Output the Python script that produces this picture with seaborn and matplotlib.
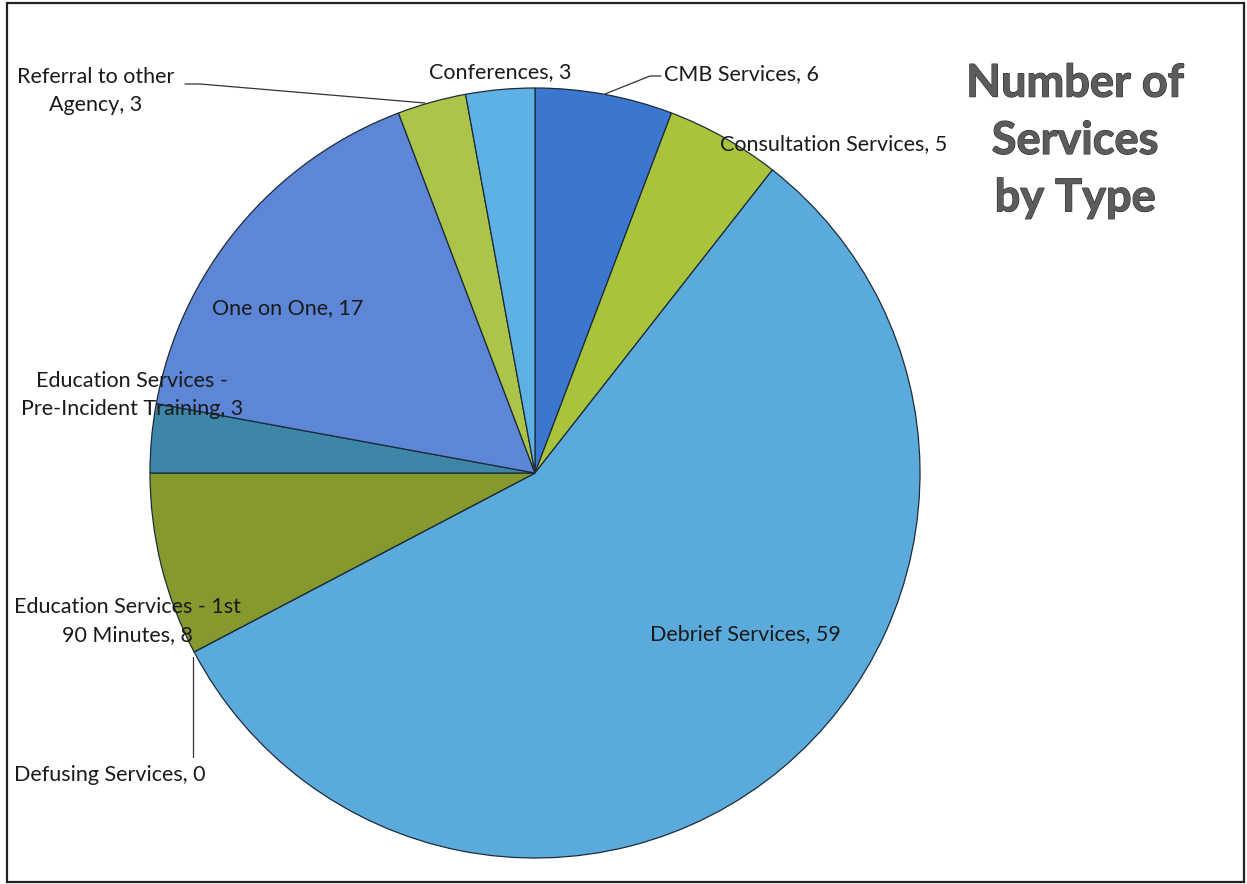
import matplotlib
matplotlib.use("Agg")
import matplotlib.pyplot as plt
import matplotlib.patheffects as pe
import seaborn as sns
from matplotlib.patches import Rectangle

# ---- data ----
categories = ["CMB Services", "Consultation Services", "Debrief Services",
              "Defusing Services", "Education Services - 1st 90 Minutes",
              "Education Services - Pre-Incident Training", "One on One",
              "Referral to other Agency", "Conferences"]
values = [6, 5, 59, 0, 8, 3, 17, 3, 3]
label_texts = ["CMB Services, 6", "Consultation Services, 5", "Debrief Services, 59",
               "Defusing Services, 0", "Education Services - 1st\n90 Minutes, 8",
               "Education Services -\nPre-Incident Training, 3", "One on One, 17",
               "Referral to other\nAgency, 3", "Conferences, 3"]
title_text = "Number of\nServices\nby Type"

colors = sns.color_palette(["#3b76cf", "#a9c43c", "#5aaadc", "#4f81bd", "#85992f",
                            "#3e86a8", "#5d86d6", "#abc449", "#5db1e4"])

sns.set_theme(style="white")
plt.rcParams["font.family"] = ["Lato", "DejaVu Sans"]

W, H = 1247, 884
fig = plt.figure(figsize=(W / 100, H / 100), dpi=100)
fig.patch.set_facecolor("white")

# pie axes: centre (535, 473), radius 385 px
cx, cy, r = 535, 473, 385
ax = fig.add_axes([(cx - r) / W, (H - cy - r) / H, 2 * r / W, 2 * r / H])
ax.pie(values, colors=colors, startangle=90, counterclock=False, radius=1.0,
       wedgeprops=dict(edgecolor="#1d2b3a", linewidth=0.9))
ax.set_xlim(-1.0, 1.0)
ax.set_ylim(-1.0, 1.0)
ax.set_aspect("equal")
ax.axis("off")
for p in ax.patches:
    p.set_clip_on(False)

# overlay axes in pixel coordinates for labels / frame
ov = fig.add_axes([0, 0, 1, 1], facecolor="none")
ov.set_xlim(0, W)
ov.set_ylim(H, 0)
ov.axis("off")

fs = 15.5
txtc = "#1a1a1a"
label_pos = {
    0: (741, 74),
    1: (834, 144),
    2: (745, 634),
    3: (110, 775),
    4: (127, 621),
    5: (132, 395),
    6: (288, 308),
    7: (96, 91),
    8: (500, 72),
}
for i, (x, y) in label_pos.items():
    ov.text(x, y, label_texts[i], ha="center", va="center", fontsize=fs, color=txtc,
            linespacing=1.5, multialignment="center")

# leader lines
ov.plot([185, 200, 425], [84, 84, 103], color="#333333", lw=0.9)
ov.plot([661, 650, 605], [76, 76, 94], color="#333333", lw=0.9)
ov.plot([193, 193], [657, 757], color="#333333", lw=0.9)

# title
ov.text(1075, 141, title_text, ha="center", va="center", fontsize=32.5,
        fontweight="bold", color="#5c5c5c", linespacing=1.45,
        path_effects=[pe.withStroke(linewidth=0.8, foreground="#2a2a2a")])

# outer frame
ov.add_patch(Rectangle((7, 3), 1237, 879, fill=False, edgecolor="#222222", lw=1.6))

fig.savefig("out.png", dpi=100, facecolor="white")
